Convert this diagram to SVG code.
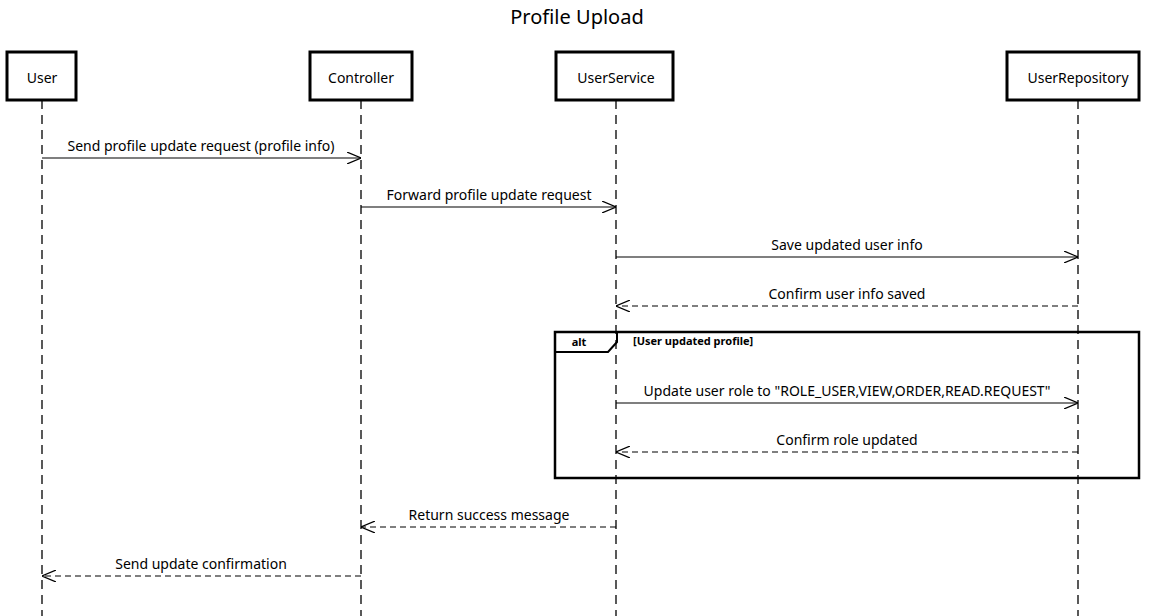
<svg xmlns="http://www.w3.org/2000/svg" width="1153" height="616" viewBox="0 0 1153 616">
<defs>
<style>
text{font-family:"Noto Sans","Liberation Sans",sans-serif;fill:#000}
.box{fill:#fff;stroke:#000;stroke-width:3}
.life{stroke:#000;stroke-width:1.3;stroke-dasharray:9,6;fill:none}
.msg{stroke:#000;stroke-width:1.2;fill:none}
.ret{stroke:#000;stroke-width:1.2;fill:none;stroke-dasharray:6,4}
.lbl{font-size:14px;text-anchor:middle}
.nm{font-size:14px;text-anchor:middle}
</style>
<marker id="ah" viewBox="0 0 14 12" refX="14" refY="6" markerWidth="14" markerHeight="12" markerUnits="userSpaceOnUse" orient="auto">
<path d="M0,0 L14,6 L0,12" fill="none" stroke="#000" stroke-width="1.2"/>
</marker>
</defs>
<rect width="1153" height="616" fill="#fff"/>
<text x="577" y="24" font-size="20" text-anchor="middle">Profile Upload</text>
<g id="lifelines">
<line class="life" x1="42" y1="100" x2="42" y2="616"/>
<line class="life" x1="361" y1="100" x2="361" y2="616"/>
<line class="life" x1="616" y1="100" x2="616" y2="616"/>
<line class="life" x1="1078" y1="100" x2="1078" y2="616"/>
</g>
<g id="user"><rect class="box" x="7" y="52" width="69" height="48"/><text class="nm" x="42" y="83">User</text></g>
<g id="controller"><rect class="box" x="310" y="52" width="102" height="48"/><text class="nm" x="361" y="83">Controller</text></g>
<g id="userservice"><rect class="box" x="556" y="52" width="117" height="48"/><text class="nm" x="616" y="83">UserService</text></g>
<g id="userrepository"><rect class="box" x="1007" y="52" width="132" height="48"/><text class="nm" x="1078" y="83">UserRepository</text></g>
<g id="alt-frame">
<rect x="555" y="332" width="584" height="146" fill="none" stroke="#000" stroke-width="2.5"/>
<path d="M555,332 L617,332 L617,342 L608,352 L555,352" fill="none" stroke="#000" stroke-width="2"/>
<text x="579" y="346" font-size="11" font-weight="bold" text-anchor="middle">alt</text>
<text x="633" y="345" font-size="11" font-weight="bold">[User updated profile]</text>
</g>
<g id="connectors">
<line class="msg" x1="42" y1="158" x2="361" y2="158" marker-end="url(#ah)"/>
<text class="lbl" x="201" y="151">Send profile update request (profile info)</text>
<line class="msg" x1="361" y1="207" x2="616" y2="207" marker-end="url(#ah)"/>
<text class="lbl" x="489" y="200">Forward profile update request</text>
<line class="msg" x1="616" y1="257" x2="1078" y2="257" marker-end="url(#ah)"/>
<text class="lbl" x="847" y="250">Save updated user info</text>
<line class="ret" x1="1078" y1="306" x2="616" y2="306" marker-end="url(#ah)"/>
<text class="lbl" x="847" y="299">Confirm user info saved</text>
<line class="msg" x1="616" y1="403" x2="1078" y2="403" marker-end="url(#ah)"/>
<text class="lbl" x="847" y="396">Update user role to "ROLE_USER,VIEW,ORDER,READ.REQUEST"</text>
<line class="ret" x1="1078" y1="452" x2="616" y2="452" marker-end="url(#ah)"/>
<text class="lbl" x="847" y="445">Confirm role updated</text>
<line class="ret" x1="616" y1="527" x2="361" y2="527" marker-end="url(#ah)"/>
<text class="lbl" x="489" y="520">Return success message</text>
<line class="ret" x1="361" y1="576" x2="42" y2="576" marker-end="url(#ah)"/>
<text class="lbl" x="201" y="569">Send update confirmation</text>
</g>
</svg>
